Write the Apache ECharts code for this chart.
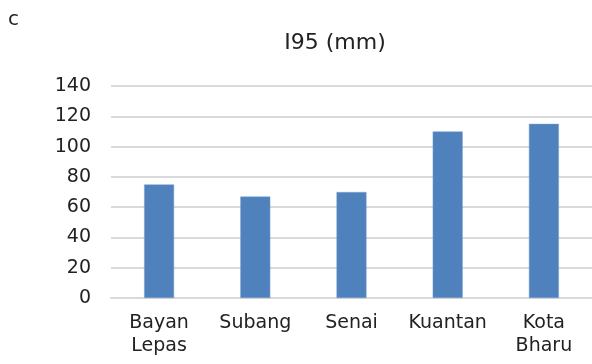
<!DOCTYPE html>
<html>
<head>
<meta charset="utf-8">
<script src="https://cdn.jsdelivr.net/npm/echarts@6/dist/echarts.min.js"></script>
<style>html,body{margin:0;padding:0;background:#fff;}#c{width:592px;height:364px;}</style>
</head>
<body>
<div id="c"></div>
<script>
const categories = ["Bayan Lepas", "Subang", "Senai", "Kuantan", "Kota Bharu"];
const values = [75, 67, 70, 110, 115];
const yTicks = [0, 20, 40, 60, 80, 100, 120, 140];
const titleText = "I95 (mm)";
const panelLabel = "c";

const FONT = "DejaVu Sans";
const chart = echarts.init(document.getElementById('c'), null, {renderer: 'canvas'});
chart.setOption({
  animation: false,
  backgroundColor: '#fff',
  title: {
    text: titleText,
    left: 330, top: 27, textAlign: 'center',
    textStyle: {fontFamily: FONT, fontSize: 22, fontWeight: 'normal', color: '#222'}
  },
  graphic: [{
    type: 'text', left: 8, top: 10,
    style: {text: panelLabel, fontFamily: FONT, fontSize: 20, fill: '#222'}
  }],
  grid: {left: 111, top: 86, width: 485, bottom: 66, containLabel: false},
  xAxis: {
    type: 'category',
    data: categories,
    axisLine: {show: true, lineStyle: {color: '#d9d9d9', width: 2}},
    axisTick: {show: false},
    axisLabel: {
      interval: 0, margin: 14, fontFamily: FONT, fontSize: 19, color: '#222', lineHeight: 23,
      formatter: v => v.replace(' ', '\n')
    }
  },
  yAxis: {
    type: 'value',
    min: yTicks[0], max: yTicks[yTicks.length - 1], interval: 20,
    axisLine: {show: false},
    axisTick: {show: false},
    splitLine: {lineStyle: {color: '#d9d9d9', width: 2}},
    axisLabel: {margin: 20, fontFamily: FONT, fontSize: 19, color: '#222'}
  },
  series: [{
    type: 'bar',
    data: values,
    barWidth: 30,
    itemStyle: {color: '#4f81bd', borderColor: '#7fa3d1', borderWidth: 0.5}
  }]
});
</script>
</body>
</html>
